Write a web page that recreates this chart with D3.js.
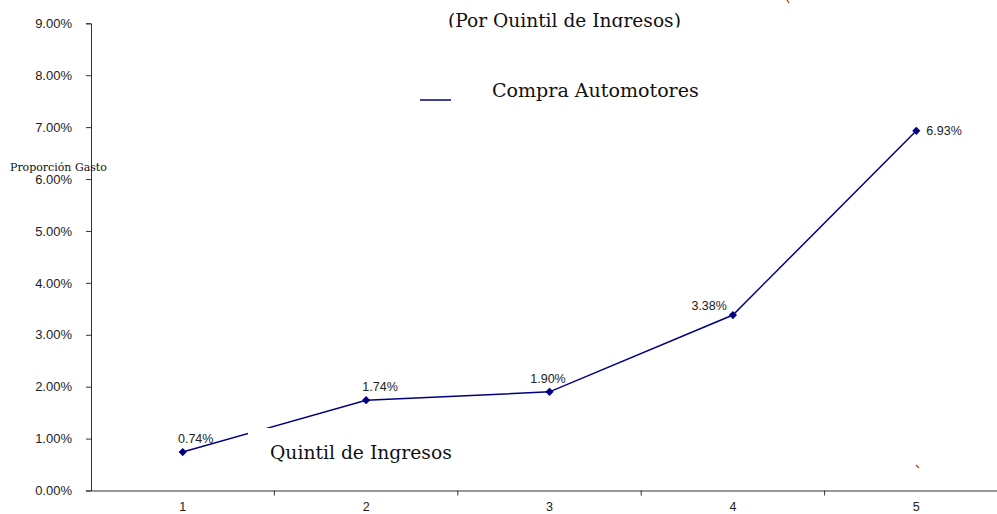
<!DOCTYPE html>
<html><head><meta charset="utf-8">
<script src="https://cdn.jsdelivr.net/npm/d3@7"></script>
<style>body{margin:0;background:#fff}svg{display:block}</style>
</head><body>
<script>
const categories = ["1","2","3","4","5"];
const values = [0.0074, 0.0174, 0.0190, 0.0338, 0.0693];
const labels = ["0.74%","1.74%","1.90%","3.38%","6.93%"];
const yTicks = [0,0.01,0.02,0.03,0.04,0.05,0.06,0.07,0.08,0.09];
const seriesName = "Compra Automotores";

const W=997,H=514;
const svg=d3.select("body").append("svg").attr("width",W).attr("height",H);
const x=d3.scaleBand().domain(categories).range([91,1008]);
const y=d3.scaleLinear().domain([0,0.09]).range([490.5,23.3]);
const navy="#000080";
const sans="Liberation Sans, Arial, sans-serif";
const serif="'DejaVu Serif', 'Liberation Serif', serif";

function fit(sel, target){
  const n=sel.node(); const fs=+sel.attr("font-size");
  const w=n.getComputedTextLength();
  if(w>0) sel.attr("font-size", fs*target/w);
  return sel;
}

// y axis
const ya=svg.append("g").attr("transform","translate(91,0)")
  .call(d3.axisLeft(y).tickValues(yTicks).tickSize(5).tickPadding(14).tickFormat(d3.format(".2%")));
ya.selectAll("text").attr("font-family",sans).attr("font-size",13).attr("fill","#222");
ya.select(".domain").attr("stroke","#333");
ya.selectAll(".tick line").attr("stroke","#333");

// x axis
const xa=svg.append("g").attr("transform","translate(0,490.5)")
  .call(d3.axisBottom(x).tickSize(0).tickPadding(12));
xa.selectAll("text").attr("font-family",sans).attr("font-size",12.5).attr("fill","#222");
xa.select(".domain").attr("stroke","#333");
const bounds=categories.map(c=>x(c)).concat([x.range()[1]]);
xa.selectAll(".bnd").data(bounds.slice(1)).join("line").attr("class","bnd")
  .attr("x1",d=>d).attr("x2",d=>d).attr("y1",0).attr("y2",5).attr("stroke","#333");

const cx=c=>x(c)+x.bandwidth()/2;
const line=d3.line().x((d,i)=>cx(categories[i])).y(d=>y(d));
svg.append("path").datum(values).attr("d",line).attr("fill","none").attr("stroke",navy).attr("stroke-width",1.5);
svg.selectAll(".mk").data(values).join("path").attr("class","mk")
  .attr("d",d3.symbol(d3.symbolSquare,34))
  .attr("transform",(d,i)=>`translate(${cx(categories[i])},${y(d)}) rotate(45)`).attr("fill",navy);

// data labels
const off=[[13,-9,"middle"],[14,-9,"middle"],[-1.5,-9,"middle"],[-6,-5,"end"],[10,4.5,"start"]];
svg.selectAll(".dl").data(values).join("text").attr("class","dl")
  .attr("x",(d,i)=>cx(categories[i])+off[i][0]).attr("y",(d,i)=>y(d)+off[i][1])
  .attr("text-anchor",(d,i)=>off[i][2]).attr("font-family",sans).attr("font-size",12.5).attr("fill","#222")
  .text((d,i)=>labels[i]);

// x axis title with white background
svg.append("rect").attr("x",248).attr("y",428).attr("width",220).attr("height",45).attr("fill","#fff");
fit(svg.append("text").attr("x",270).attr("y",459).attr("font-family",serif).attr("font-size",18).attr("fill","#111").text("Quintil de Ingresos"),182);

// title (clipped)
svg.append("clipPath").attr("id","tc").append("rect").attr("x",0).attr("y",0).attr("width",W).attr("height",27.5);
fit(svg.append("text").attr("clip-path","url(#tc)").attr("x",448).attr("y",27).attr("font-family",serif).attr("font-size",18).attr("fill","#111").text("(Por Quintil de Ingresos)"),233);

// legend
svg.append("line").attr("x1",420).attr("x2",451).attr("y1",100).attr("y2",100).attr("stroke",navy).attr("stroke-width",1.5);
fit(svg.append("text").attr("x",492).attr("y",97).attr("font-family",serif).attr("font-size",18).attr("fill","#111").text(seriesName),207);

// y axis title
fit(svg.append("text").attr("x",10).attr("y",171).attr("font-family",serif).attr("font-size",11).attr("fill","#111").text("Proporción Gasto"),97);

// stray orange marks
svg.append("line").attr("x1",787).attr("y1",0).attr("x2",789).attr("y2",3).attr("stroke","#c04000").attr("stroke-width",1.3);
svg.append("line").attr("x1",916).attr("y1",465).attr("x2",919).attr("y2",468).attr("stroke","#c04000").attr("stroke-width",1.2);
</script>
</body></html>
